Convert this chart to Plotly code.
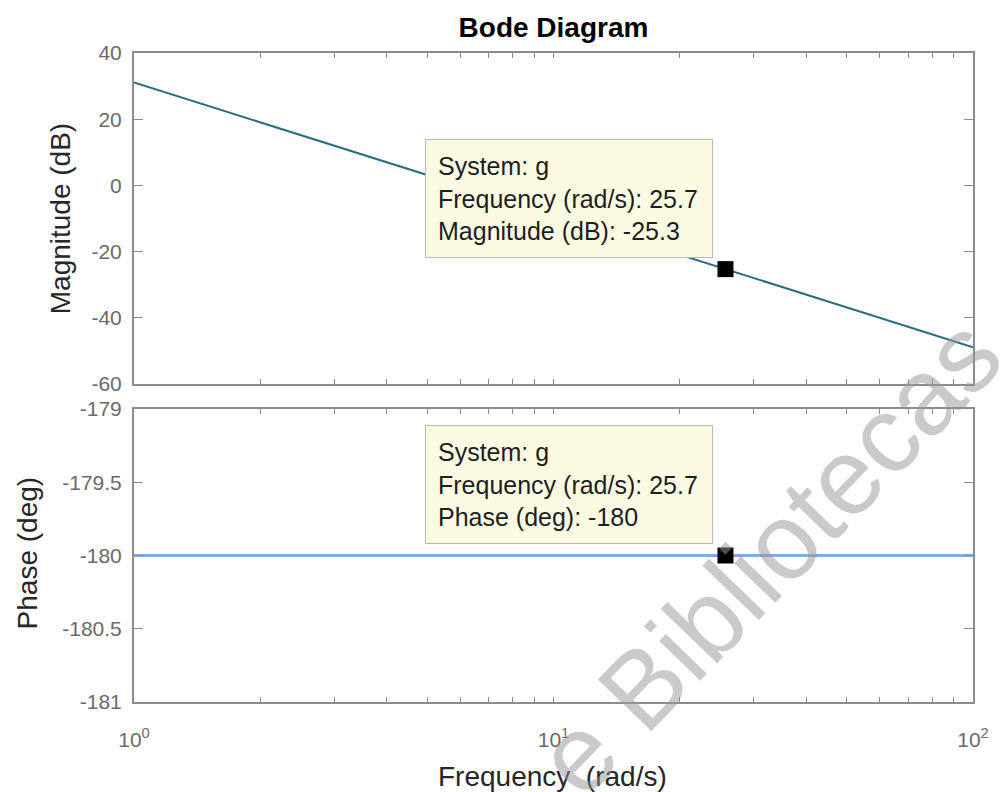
import plotly.graph_objects as go

# ---- data ----
freq_mag = [1, 10, 100]                 # rad/s
mag_db = [31.1, -8.9, -48.9]            # dB
freq_phase = [1, 100]                   # rad/s
phase_deg = [-180, -180]                # deg

tip_freq = [25.7]
tip_mag = [-25.3]
tip_phase = [-180]
system_name = "g"

x_tickvals = [1, 2, 3, 4, 5, 6, 7, 8, 9, 10, 20, 30, 40, 50, 60, 70, 80, 90, 100]
x_ticktext = ["10<sup>0</sup>", "", "", "", "", "", "", "", "", "10<sup>1</sup>",
              "", "", "", "", "", "", "", "", "10<sup>2</sup>"]
mag_tickvals = [-60, -40, -20, 0, 20, 40]
mag_ticktext = ["-60", "-40", "-20", "0", "20", "40"]
ph_tickvals = [-181, -180.5, -180, -179.5, -179]
ph_ticktext = ["-181", "-180.5", "-180", "-179.5", "-179"]

FONT = "Liberation Sans, Arial, Helvetica, sans-serif"
AX = "#8c8c8c"
TICKC = "#6a6a6a"

fig = go.Figure()
fig.add_trace(go.Scatter(x=freq_mag, y=mag_db, mode="lines",
                         line=dict(color="#2a6e80", width=2),
                         xaxis="x", yaxis="y", showlegend=False))
fig.add_trace(go.Scatter(x=tip_freq, y=tip_mag, mode="markers",
                         marker=dict(symbol="square", size=16, color="black"),
                         xaxis="x", yaxis="y", showlegend=False))
fig.add_trace(go.Scatter(x=freq_phase, y=phase_deg, mode="lines",
                         line=dict(color="#86a9de", width=3),
                         xaxis="x2", yaxis="y2", showlegend=False))
fig.add_trace(go.Scatter(x=tip_freq, y=tip_phase, mode="markers",
                         marker=dict(symbol="square", size=16, color="black"),
                         xaxis="x2", yaxis="y2", showlegend=False))

xcommon = dict(type="log", range=[0, 2], showline=True, linecolor=AX, linewidth=2,
               mirror="ticks", ticks="inside", ticklen=5, tickwidth=1, tickcolor=AX,
               tickvals=x_tickvals, showgrid=False, zeroline=False,
               tickfont=dict(family=FONT, size=21, color=TICKC))
ycommon = dict(showline=True, linecolor=AX, linewidth=2, mirror="ticks",
               ticks="inside", ticklen=9, tickwidth=1, tickcolor=AX,
               showgrid=False, zeroline=False, ticklabelstandoff=6,
               tickfont=dict(family=FONT, size=21, color=TICKC))

fig.update_layout(
    width=1001, height=792,
    margin=dict(l=134, r=25, t=53, b=90),
    paper_bgcolor="white", plot_bgcolor="white",
    xaxis=dict(**xcommon, anchor="y", domain=[0, 1], showticklabels=False,
               ticktext=[""] * len(x_tickvals)),
    xaxis2=dict(**xcommon, anchor="y2", domain=[0, 1], matches="x",
                ticktext=x_ticktext, ticklabelstandoff=18),
    yaxis=dict(**ycommon, domain=[0.49, 1.0], range=[-60, 40],
               tickvals=mag_tickvals, ticktext=mag_ticktext, anchor="x"),
    yaxis2=dict(**ycommon, domain=[0.0, 0.4515], range=[-181, -179],
                tickvals=ph_tickvals, ticktext=ph_ticktext, anchor="x2"),
    title=dict(text="<b>Bode Diagram</b>", x=0.5, xref="paper", xanchor="center",
               y=1 - 27 / 792, yref="container", yanchor="middle",
               font=dict(family=FONT, size=28, color="black")),
    showlegend=False,
)

annots = []
# axis titles
annots.append(dict(text="Magnitude (dB)", xref="paper", yref="paper",
                   x=(60 - 134) / 842, y=(702 - 219) / 649, textangle=-90,
                   showarrow=False, xanchor="center", yanchor="middle",
                   font=dict(family=FONT, size=28, color="#262626")))
annots.append(dict(text="Phase (deg)", xref="paper", yref="paper",
                   x=(27 - 134) / 842, y=(702 - 553) / 649, textangle=-90,
                   showarrow=False, xanchor="center", yanchor="middle",
                   font=dict(family=FONT, size=28, color="#262626")))
annots.append(dict(text="Frequency  (rad/s)", xref="paper", yref="paper",
                   x=(554 - 134) / 842, y=(702 - 776) / 649,
                   showarrow=False, xanchor="center", yanchor="middle",
                   font=dict(family=FONT, size=28, color="#262626")))
# data tips
tip1 = (f"System: {system_name}<br>Frequency (rad/s): {tip_freq[0]}"
        f"<br>Magnitude (dB): {tip_mag[0]}")
tip2 = (f"System: {system_name}<br>Frequency (rad/s): {tip_freq[0]}"
        f"<br>Phase (deg): {tip_phase[0]}")
for txt, ytop in ((tip1, 139), (tip2, 425)):
    annots.append(dict(text=txt, xref="paper", yref="paper",
                       x=(426 - 134) / 842, y=(702 - ytop) / 649,
                       xanchor="left", yanchor="top", align="left",
                       showarrow=False, bgcolor="#fbfbe4", bordercolor="#b9b9b9",
                       borderwidth=1, borderpad=12, width=262,
                       font=dict(family=FONT, size=25, color="#1e1e1e")))
# watermark
annots.append(dict(text="e Bibliotecas", xref="paper", yref="paper",
                   x=(770 - 134) / 842, y=(702 - 556) / 649,
                   xanchor="center", yanchor="middle", textangle=-46,
                   showarrow=False,
                   font=dict(family=FONT, size=108, color="rgba(150,150,150,0.5)")))
fig.update_layout(annotations=annots)

fig.write_html("out.html")
